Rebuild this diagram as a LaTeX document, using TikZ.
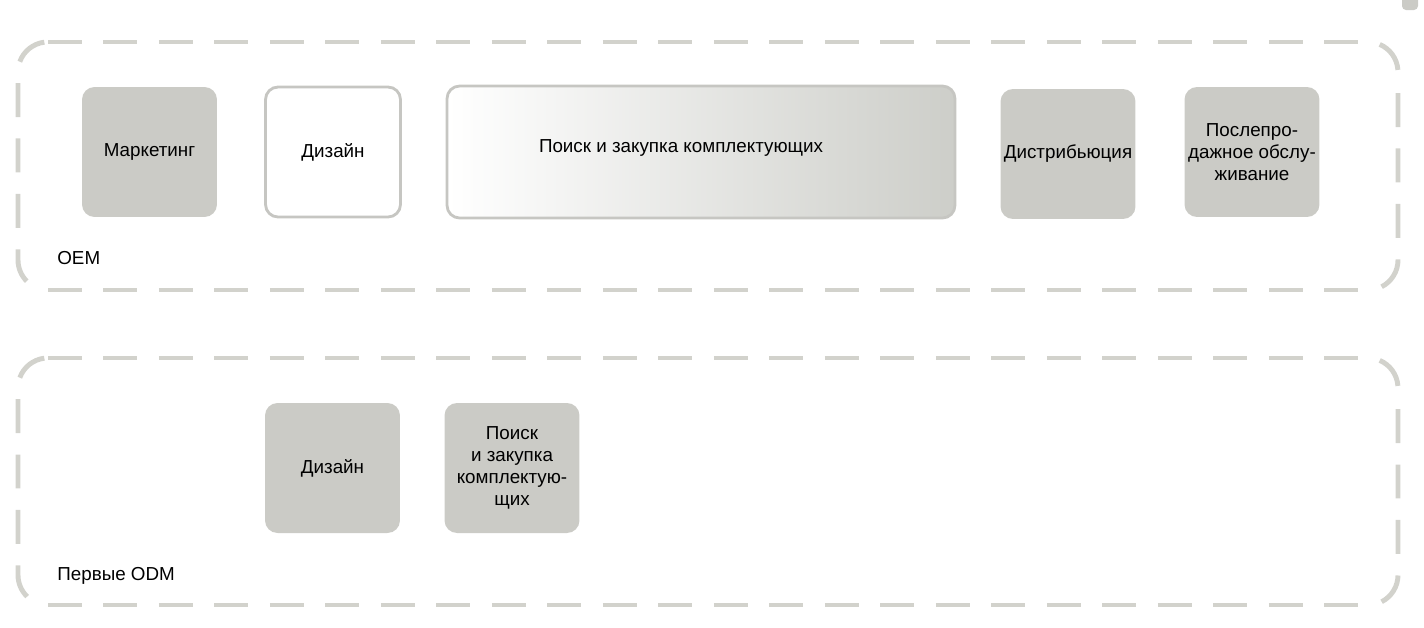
\documentclass[tikz,border=0pt]{standalone}
\usepackage{fontspec}
\setmainfont{Liberation Sans}
\definecolor{boxgray}{HTML}{CBCBC6}
\definecolor{dashgray}{HTML}{D2D2CC}
\definecolor{edgegray}{HTML}{C6C6C2}
\definecolor{midgray}{HTML}{E3E4DF}
\definecolor{endgray}{HTML}{CDCEC9}

\begin{document}
\begin{tikzpicture}[x=0.02cm,y=-0.02cm,
  rim/.style={draw=dashgray,line width=2.8pt},
  frame/.style={rim,dash pattern=on 0.68cm off 0.43cm},
  unit/.style={fill=boxgray,rounded corners=0.25cm,minimum width=2.7cm,minimum height=2.6cm,
    inner sep=1pt,align=center,font=\fontsize{10.7}{12.5}\selectfont},
  openunit/.style={unit,fill=white,draw=edgegray,line width=1.6pt},
  tag/.style={anchor=west,inner sep=0pt,font=\fontsize{10.7}{12.5}\selectfont}]
\useasboundingbox (0,0) rectangle (1424,627);
\fill[boxgray,rounded corners=0.08cm] (1402,-8) rectangle (1418,10);

% dashed frames
\foreach \t/\b in {42/290,358/605} {
  \draw[frame] (48,\t) -- (1360,\t);
  \draw[frame] (48,\b) -- (1360,\b);
  \draw[frame] (18,\t+41) -- (18,\b-30) arc[start angle=180,end angle=134,radius=30];
  \draw[frame] (1398,\t+51) -- (1398,\b-30) arc[start angle=0,end angle=63,radius=30];
  \draw[rim] (19.8,\t+19.7) arc[start angle=-160,end angle=-97,radius=30];
  \draw[rim] (1379.7,\t+2.4) arc[start angle=-67,end angle=-4,radius=30];
}

% OEM
\node[unit] (market) at (149.5,152) {Маркетинг};
\node[openunit] (design) at (333,152) {Дизайн};
\node[openunit,minimum width=10.16cm,minimum height=2.64cm,left color=white,middle color=midgray,right color=endgray] (supply) at (701,152) {};
\node[font=\fontsize{10.7}{12.5}\selectfont] (supplytext) at (681,148) {Поиск и закупка комплектующих};
\node[unit] (distrib) at (1068,154) {Дистрибьюция};
\node[unit] (service) at (1252,152) {Послепро-\\дажное обслу-\\живание};
\node[tag] (oem) at (57,258) {OEM};

% ODM
\node[unit] (design2) at (332.5,468) {Дизайн};
\node[unit] (supply2) at (512,468) {Поиск\\и закупка\\комплектую-\\щих};
\node[tag] (odm) at (57,576) {Первые ODM};

\end{tikzpicture}
\end{document}
